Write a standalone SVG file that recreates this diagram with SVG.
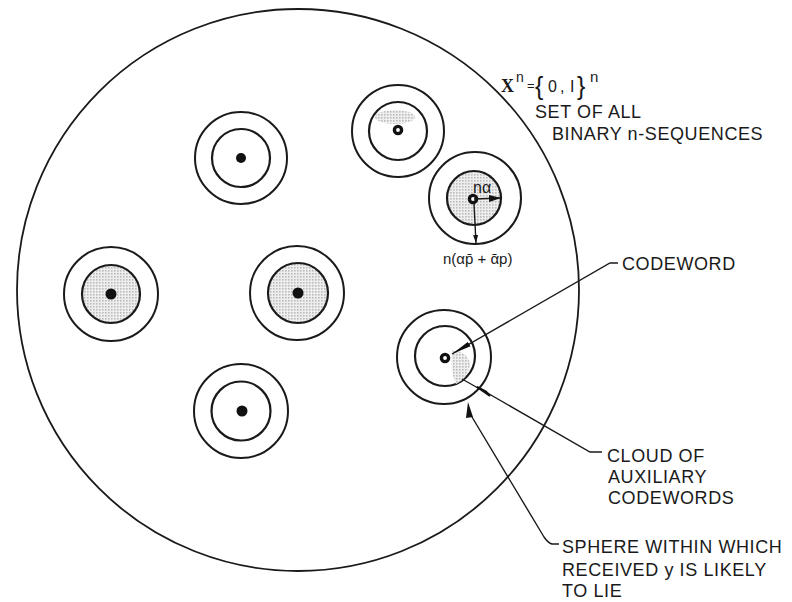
<svg xmlns="http://www.w3.org/2000/svg" width="792" height="602" viewBox="0 0 792 602">
<defs>
<pattern id="stip" width="3" height="3" patternUnits="userSpaceOnUse">
<rect width="3" height="3" fill="#eeeeee"/>
<rect x="0" y="0" width="1.6" height="1.6" fill="#bcbcbc"/>
</pattern>
<marker id="ah" viewBox="0 0 20 8" refX="20" refY="4" markerWidth="20" markerHeight="8" markerUnits="userSpaceOnUse" orient="auto">
<path d="M0,1.5 L20,4 L0,6.5 Z" fill="#111"/>
</marker>
<marker id="ahs" viewBox="0 0 12 8" refX="12" refY="4" markerWidth="12" markerHeight="8" markerUnits="userSpaceOnUse" orient="auto">
<path d="M0,0.5 L12,4 L0,7.5 Z" fill="#111"/>
</marker>
<marker id="aht" viewBox="0 0 8 6" refX="8" refY="3" markerWidth="8" markerHeight="6" markerUnits="userSpaceOnUse" orient="auto">
<path d="M0,0.5 L8,3 L0,5.5 Z" fill="#111"/>
</marker>
</defs>
<style>
.big{fill:none;stroke:#1a1a1a;stroke-width:1.8}
.out{fill:none;stroke:#1a1a1a;stroke-width:2}
.inn{stroke:#1a1a1a;stroke-width:2.2}
.dot{fill:#111}
.ring{fill:#fff;stroke:#111;stroke-width:3.4}
.ln{fill:none;stroke:#1a1a1a;stroke-width:1.4}
.t{font-family:"Liberation Sans",Arial,sans-serif;font-size:18px;fill:#1a1a1a;letter-spacing:0.6px}
.m{font-family:"Liberation Sans",Arial,sans-serif;fill:#1a1a1a}
.s{font-family:"Liberation Serif","Times New Roman",serif;fill:#1a1a1a}
</style>
<rect width="792" height="602" fill="#fff"/>

<g id="universe">
<circle class="big" cx="298" cy="290" r="281"/>
</g>

<g id="node-1">
<circle class="out" cx="241" cy="158" r="46"/>
<circle class="inn" cx="241" cy="158" r="29" fill="#fff"/>
<circle class="dot" cx="241" cy="158" r="5"/>
</g>

<g id="node-2">
<circle class="out" cx="398" cy="131" r="46"/>
<circle class="inn" cx="398" cy="131" r="29" fill="#fff"/>
<ellipse cx="395" cy="117" rx="20" ry="7" fill="url(#stip)"/>
<circle class="ring" cx="398" cy="130" r="3.6"/>
</g>

<g id="node-3">
<circle class="out" cx="475" cy="198" r="46"/>
<circle class="inn" cx="474" cy="198" r="27" fill="url(#stip)"/>
<circle class="ring" cx="473" cy="199" r="3.6"/>
</g>

<g id="node-4">
<circle class="out" cx="111" cy="294" r="47"/>
<circle class="inn" cx="111" cy="294" r="29" fill="url(#stip)"/>
<circle class="dot" cx="111" cy="294" r="5.5"/>
</g>

<g id="node-5">
<circle class="out" cx="297" cy="293" r="47"/>
<circle class="inn" cx="298" cy="293" r="30" fill="url(#stip)"/>
<circle class="dot" cx="298" cy="293" r="5.5"/>
</g>

<g id="node-6">
<circle class="out" cx="241" cy="411" r="47"/>
<circle class="inn" cx="241" cy="411" r="29.5" fill="#fff"/>
<circle class="dot" cx="242" cy="411" r="5.5"/>
</g>

<g id="node-codeword">
<circle class="out" cx="444" cy="357" r="47"/>
<circle class="inn" cx="445" cy="356" r="30" fill="#fff"/>
<path d="M452,350 Q470,352 470,366 Q466,380 456,384 Q450,372 452,350 Z" fill="url(#stip)"/>
<circle class="ring" cx="445" cy="358" r="3.6" fill="#aaa" stroke="#333"/>
</g>

<g id="connectors">
<line class="ln" x1="474" y1="199" x2="501" y2="198" marker-end="url(#ahs)"/>
<line class="ln" x1="474" y1="204" x2="476" y2="243" marker-end="url(#aht)"/>
<polyline class="ln" points="618,263 610,263 452,354" marker-end="url(#ah)"/>
<polyline class="ln" points="602,452 590,452 477,387"/>
<line class="ln" x1="478" y1="388" x2="462" y2="379"/>
<path d="M490,396 L477,387 L486,391.5 Z" fill="#111" stroke="#111" stroke-width="2"/>
<path class="ln" d="M559,544 L552,544 Q548,543 544,537 L472,417"/>
<path d="M468,402 L473,417 L466,418 Z" fill="#111"/>
</g>

<g id="labels">
<text class="s" x="501" y="92" font-weight="bold" font-size="18">X</text>
<text class="m" x="516" y="82" font-size="14">n</text>
<text class="m" x="527" y="90" font-size="13">=</text>
<text class="m" x="535" y="95" font-size="25">{</text>
<text class="m" x="548" y="92" font-size="16">0</text>
<text class="m" x="560" y="92" font-size="16">,</text>
<text class="m" x="570" y="92" font-size="16">I</text>
<text class="m" x="577" y="95" font-size="25">}</text>
<text class="m" x="590" y="82" font-size="15">n</text>
<text class="t" x="535" y="118">SET OF ALL</text>
<text class="t" x="552" y="140">BINARY n-SEQUENCES</text>
<text class="m" x="473" y="193" font-size="16">nα</text>
<text class="m" x="443" y="264" font-size="15">n(αp̄ + ᾱp)</text>
<text class="t" x="622" y="270">CODEWORD</text>
<text class="t" x="607" y="462">CLOUD OF</text>
<text class="t" x="608" y="483">AUXILIARY</text>
<text class="t" x="608" y="504">CODEWORDS</text>
<text class="t" x="562" y="553">SPHERE WITHIN WHICH</text>
<text class="t" x="562" y="576">RECEIVED y IS LIKELY</text>
<text class="t" x="562" y="597">TO LIE</text>
</g>
</svg>
